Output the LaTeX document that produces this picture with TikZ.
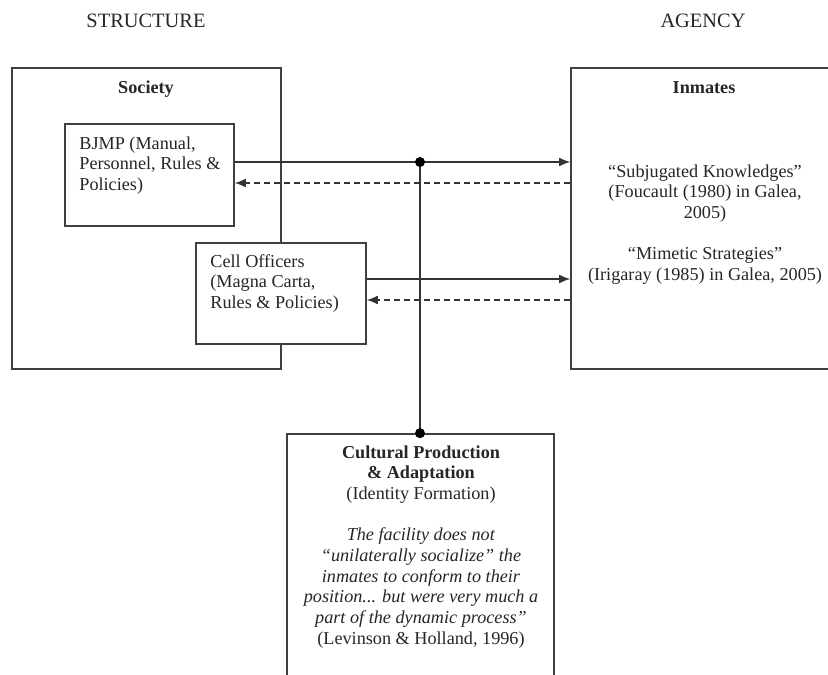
\documentclass[tikz,border=0pt]{standalone}
\usepackage{fontspec}
\setmainfont{Liberation Serif}
\usetikzlibrary{arrows.meta,fit,positioning}
\begin{document}
\begin{tikzpicture}[x=.5pt,y=-.5pt,line cap=butt,line join=miter,>={Latex[length=5.5pt,width=4.4pt]},
	font=\fontsize{9.1}{10.35}\selectfont,
	box/.style={draw=black!75,line width=.8pt,fill=white,inner sep=0pt},
	txt/.style={inner sep=0pt,text=black!85},
	link/.style={draw=black!80,line width=.65pt},
	back/.style={link,dash pattern=on 3pt off 2pt},
	dot/.style={circle,fill=black,inner sep=0pt,minimum size=5pt}]
		\clip (0,0) rectangle (828,674);
		\node[txt,anchor=base,font=\fontsize{10.2}{12}\selectfont] (hdS) at (146,28) {STRUCTURE};
		\node[txt,anchor=base,font=\fontsize{10.2}{12}\selectfont] (hdA) at (703,28) {AGENCY};
		% outer boxes
		\node[box,fit={(12,68) (281,369)}] (soc) {};
		\node[box,fit={(571,68) (900,369)}] (inm) {};
		\node[txt,anchor=base,font=\fontsize{9.1}{10.35}\selectfont\bfseries] (socT) at (146,93) {Society};
		\node[txt,anchor=base,font=\fontsize{9.1}{10.35}\selectfont\bfseries] (inmT) at (704,93) {Inmates};
		% inner boxes
		\node[box,fit={(65,124) (234,226)}] (bjmp) {};
		\node[box,fit={(196,243) (366,344)}] (cell) {};
		\node[txt,anchor=north west,align=left] (bjmpT) at (79,136) {BJMP (Manual,\\Personnel, Rules \&\\Policies)};
		\node[txt,anchor=north west,align=left] (cellT) at (210,254) {Cell Officers\\(Magna Carta,\\Rules \& Policies)};
		\node[txt,anchor=north,align=center] (inmX) at (705,164) {“Subjugated Knowledges”\\(Foucault (1980) in Galea,\\2005)\\[10.35pt]“Mimetic Strategies”\\(Irigaray (1985) in Galea, 2005)};
		% bottom box
		\node[box,fit={(287,434) (554,720)}] (cult) {};
		\node[txt,anchor=north,align=center] (cultT) at (421,445) {\textbf{Cultural Production}\\\textbf{\& Adaptation}\\(Identity Formation)\\[10.35pt]\textit{The facility does not}\\\textit{“unilaterally socialize” the}\\\textit{inmates to conform to their}\\\textit{position... but were very much a}\\\textit{part of the dynamic process”}\\(Levinson \& Holland, 1996)};
		% connectors
		\coordinate (j1) at (420,162);
		\coordinate (r1) at (0,183);
		\coordinate (s2) at (0,279);
		\coordinate (r2) at (0,300);
		\draw[link,->] (bjmp.east |- j1) -- (j1) -- (inm.west |- j1);
		\draw[back,->] (inm.west |- r1) -- (bjmp.east |- r1);
		\draw[link,->] (cell.east |- s2) -- (inm.west |- s2);
		\draw[back,->] (inm.west |- r2) -- (cell.east |- r2);
		\draw[link] (j1) -- (j1 |- cult.north);
		\node[dot] (d1) at (j1) {};
		\node[dot] (d2) at (j1 |- cult.north) {};
\end{tikzpicture}
\end{document}
